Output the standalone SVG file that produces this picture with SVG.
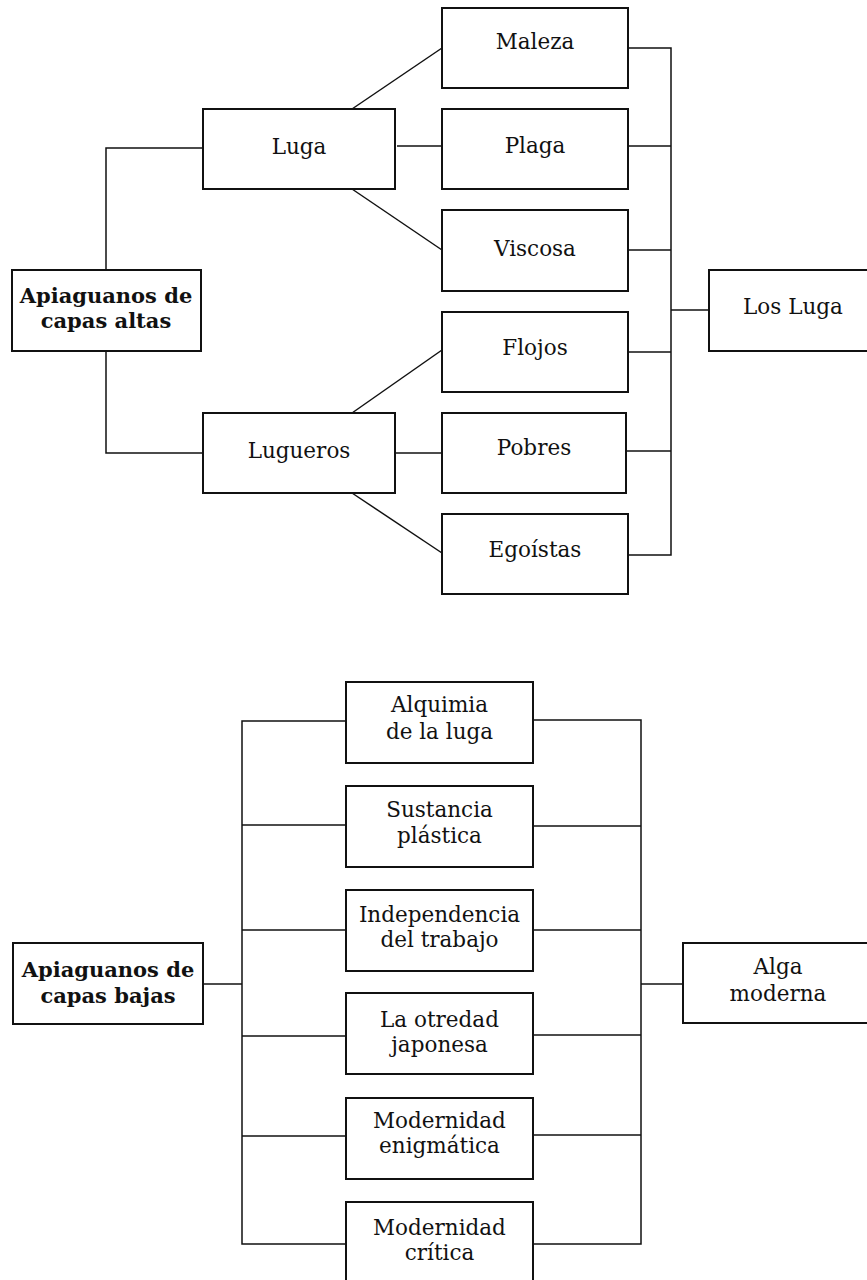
<svg xmlns="http://www.w3.org/2000/svg" width="867" height="1280" viewBox="0 0 867 1280">
<style>
.box{fill:#fff;stroke:#111;stroke-width:2}
.t{font-family:"DejaVu Serif","Liberation Serif",serif;font-size:21.5px;fill:#111;text-anchor:middle}
.b{font-weight:bold;font-size:21px}
.c{fill:none;stroke:#111;stroke-width:1.5}
</style>
<rect width="867" height="1280" fill="#fff"/>
<g id="connectors">
<path class="c" d="M106,270 V148 H203"/>
<path class="c" d="M106,351 V453 H203"/>
<path class="c" d="M352,109 L442,48"/>
<path class="c" d="M397,146 H442"/>
<path class="c" d="M352,189 L442,250"/>
<path class="c" d="M352,413 L442,350"/>
<path class="c" d="M395,453 H442"/>
<path class="c" d="M352,493 L442,553"/>
<path class="c" d="M628,48 H671 V555 H628"/>
<path class="c" d="M628,146 H671"/>
<path class="c" d="M628,250 H671"/>
<path class="c" d="M628,352 H671"/>
<path class="c" d="M626,451 H671"/>
<path class="c" d="M671,310 H709"/>
<path class="c" d="M203,984 H242"/>
<path class="c" d="M346,721 H242 V1244 H346"/>
<path class="c" d="M242,825 H346"/>
<path class="c" d="M242,930 H346"/>
<path class="c" d="M242,1036 H346"/>
<path class="c" d="M242,1136 H346"/>
<path class="c" d="M533,720 H641 V1244 H533"/>
<path class="c" d="M533,826 H641"/>
<path class="c" d="M533,930 H641"/>
<path class="c" d="M533,1035 H641"/>
<path class="c" d="M533,1135 H641"/>
<path class="c" d="M641,984 H683"/>
</g>
<g id="root-altas"><rect class="box" x="12" y="270" width="189" height="81"/><text class="t b" x="106" y="303">Apiaguanos de</text><text class="t b" x="106" y="328">capas altas</text></g>
<g id="luga"><rect class="box" x="203" y="109" width="192" height="80"/><text class="t" x="299" y="154">Luga</text></g>
<g id="lugueros"><rect class="box" x="203" y="413" width="192" height="80"/><text class="t" x="299" y="458">Lugueros</text></g>
<g id="maleza"><rect class="box" x="442" y="8" width="186" height="80"/><text class="t" x="535" y="49">Maleza</text></g>
<g id="plaga"><rect class="box" x="442" y="109" width="186" height="80"/><text class="t" x="535" y="153">Plaga</text></g>
<g id="viscosa"><rect class="box" x="442" y="210" width="186" height="81"/><text class="t" x="535" y="256">Viscosa</text></g>
<g id="flojos"><rect class="box" x="442" y="312" width="186" height="80"/><text class="t" x="535" y="355">Flojos</text></g>
<g id="pobres"><rect class="box" x="442" y="413" width="184" height="80"/><text class="t" x="534" y="455">Pobres</text></g>
<g id="egoistas"><rect class="box" x="442" y="514" width="186" height="80"/><text class="t" x="535" y="557">Egoístas</text></g>
<g id="los-luga"><rect class="box" x="709" y="270" width="170" height="81"/><text class="t" x="793" y="314">Los Luga</text></g>
<g id="root-bajas"><rect class="box" x="13" y="943" width="190" height="81"/><text class="t b" x="108" y="977">Apiaguanos de</text><text class="t b" x="108" y="1003">capas bajas</text></g>
<g id="alquimia"><rect class="box" x="346" y="682" width="187" height="81"/><text class="t" x="439.5" y="712">Alquimia</text><text class="t" x="439.5" y="739">de la luga</text></g>
<g id="sustancia"><rect class="box" x="346" y="786" width="187" height="81"/><text class="t" x="439.5" y="817">Sustancia</text><text class="t" x="439.5" y="843">plástica</text></g>
<g id="independencia"><rect class="box" x="346" y="890" width="187" height="81"/><text class="t" x="439.5" y="922">Independencia</text><text class="t" x="439.5" y="947">del trabajo</text></g>
<g id="otredad"><rect class="box" x="346" y="993" width="187" height="81"/><text class="t" x="439.5" y="1027">La otredad</text><text class="t" x="439.5" y="1052">japonesa</text></g>
<g id="enigmatica"><rect class="box" x="346" y="1098" width="187" height="81"/><text class="t" x="439.5" y="1128">Modernidad</text><text class="t" x="439.5" y="1153">enigmática</text></g>
<g id="critica"><rect class="box" x="346" y="1202" width="187" height="81"/><text class="t" x="439.5" y="1235">Modernidad</text><text class="t" x="439.5" y="1260">crítica</text></g>
<g id="alga"><rect class="box" x="683" y="943" width="192" height="80"/><text class="t" x="778" y="974">Alga</text><text class="t" x="778" y="1001">moderna</text></g>
</svg>
